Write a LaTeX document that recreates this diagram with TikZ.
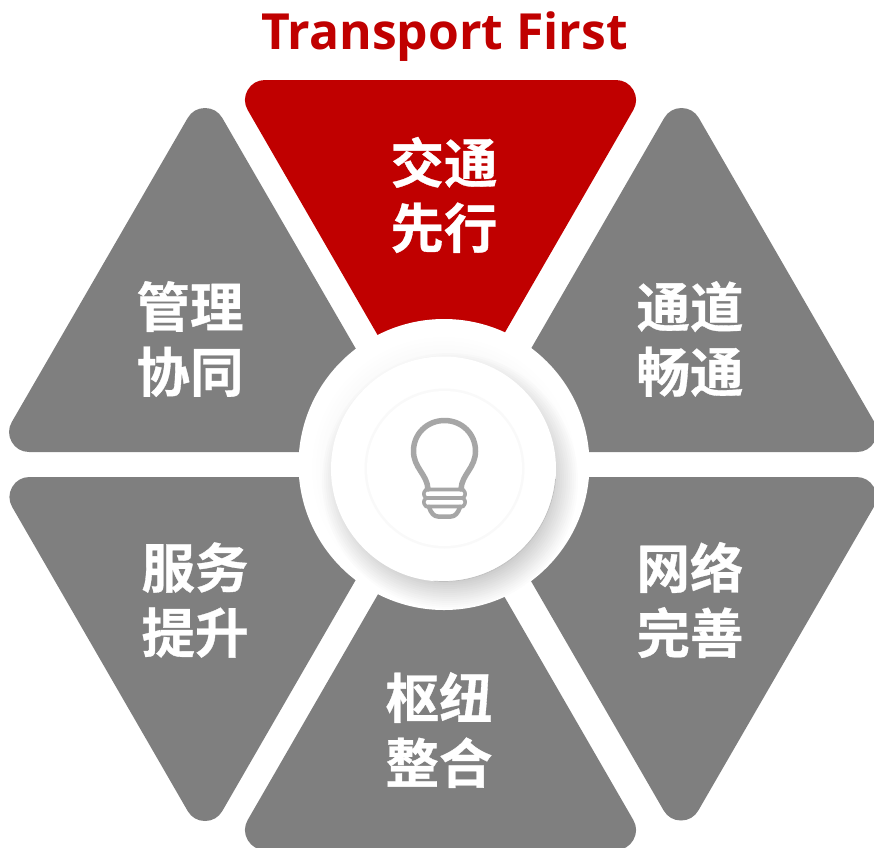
\documentclass[tikz,border=0pt]{standalone}
\usepackage{fontspec}
\setmainfont{Open Sans}
\newfontfamily\cjkbold[FakeBold=0.6]{Noto Sans CJK SC Bold}
\definecolor{tred}{HTML}{C00000}
\definecolor{tgray}{HTML}{7F7F7F}
\definecolor{bulbgray}{HTML}{A6A6A6}
\tikzset{
  tri/.style={fill=tgray,draw=tgray,line width=40pt,line join=round},
  trired/.style={fill=tred,draw=tred,line width=40pt,line join=round},
  lab/.style={text=white,align=center,font=\cjkbold\fontsize{53.5}{65}\selectfont,inner sep=0pt},
  bulbline/.style={draw=bulbgray,line width=5.5pt,line cap=round,line join=round}
}
\begin{document}
\begin{tikzpicture}[x=1pt,y=-1pt]
\useasboundingbox (0,0) rectangle (874,847);
\clip (0,0) rectangle (874,847);
% triangles: paths through the corner-circle centres, widened by the stroke
\path[trired] (265,100) -- (616,100) -- (440.5,404) -- cycle;
\path[tri] (29.1,432) -- (205,128) -- (380.9,432) -- cycle;
\path[tri] (506,432) -- (681.5,128) -- (857,432) -- cycle;
\path[tri] (29.5,497) -- (380.5,497) -- (205,801) -- cycle;
\path[tri] (505.5,497) -- (856.5,497) -- (681,800.5) -- cycle;
\path[tri] (265,830) -- (616,830) -- (440.5,526) -- cycle;
% outer ring and shadow
\coordinate (c) at (444,464.5);
\fill[white] (c) circle[radius=145.5];
\begin{scope}
\clip (c) circle[radius=145.5];
\foreach \r in {128,126,...,100}{
  \fill[black,opacity=0.012] (450,481) circle[radius=\r];
}
\foreach \r in {132,128,...,116}{
  \fill[black,opacity=0.005] (444,469) circle[radius=\r];
}
\end{scope}
% disc
\fill[white] (443.5,469) circle[radius=112.5];
\draw[black!25,line width=.7pt] (443.5,469) ++(5:112.5) arc[start angle=5,end angle=95,radius=112.5];
\fill[black!2.5] (444.5,468.5) circle[radius=80];
\fill[white] (444.5,468.5) circle[radius=77.5];
% bulb
\draw[bulbline] (428,489) .. controls (427,474) and (413.5,468) .. (413.5,451)
  .. controls (413.5,434) and (427,420.5) .. (444.5,420.5)
  .. controls (462,420.5) and (475.5,434) .. (475.5,451)
  .. controls (475.5,468) and (462,474) .. (461,489);
\draw[bulbline,line width=3.6pt] (426,489.5) -- (463,489.5)
  .. controls (466,493) and (466,495) .. (463,498) -- (426,498)
  .. controls (423,495) and (423,493) .. (426,489.5) -- cycle;
\draw[bulbline,line width=3.6pt] (426,498) .. controls (423,501) and (423,503) .. (426,506.5) -- (463,506.5)
  .. controls (466,503) and (466,501) .. (463,498);
\draw[bulbline,line width=4.5pt] (429,507) .. controls (431,513) and (434,516.5) .. (438,516.5) -- (451,516.5)
  .. controls (455,516.5) and (458,513) .. (460,507);
% text
\node[inner sep=0pt,text=tred,font=\bfseries\fontsize{49.8}{60}\selectfont] (title) at (444.5,36.5) {Transport First};
\node[lab] (n1) at (444,195) {交通\\先行};
\node[lab] (n2) at (690,339) {通道\\畅通};
\node[lab] (n3) at (690,600) {网络\\完善};
\node[lab] (n4) at (439,730) {枢纽\\整合};
\node[lab] (n5) at (195,600) {服务\\提升};
\node[lab] (n6) at (190,339) {管理\\协同};
\end{tikzpicture}
\end{document}
